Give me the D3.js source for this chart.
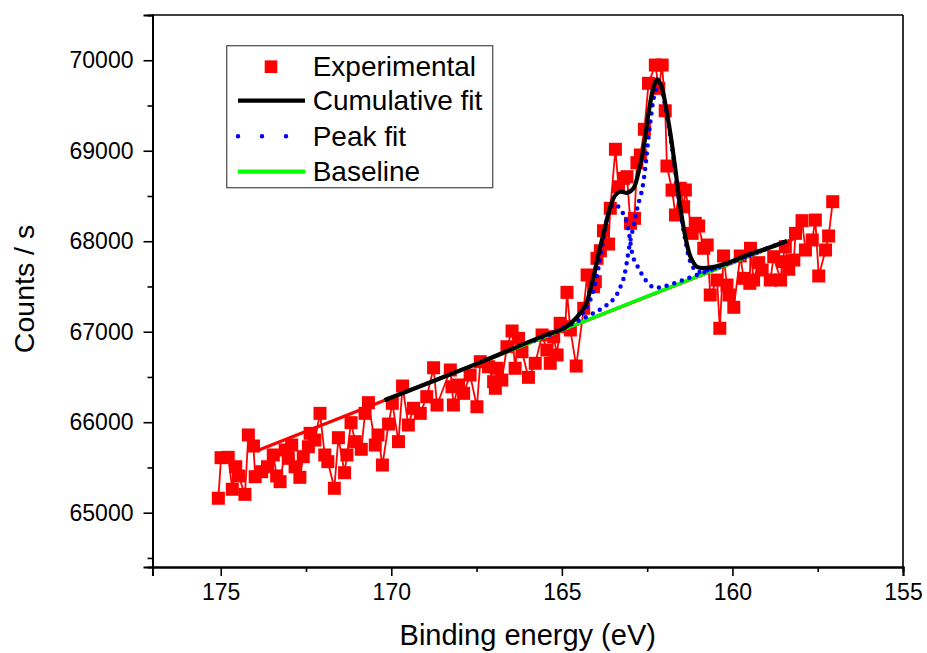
<!DOCTYPE html>
<html>
<head>
<meta charset="utf-8">
<script src="https://cdn.jsdelivr.net/npm/d3@7"></script>
<style>
  body { margin: 0; background: #fff; }
  text { font-family: "Liberation Sans", Arial, sans-serif; fill: #000; }
</style>
</head>
<body>
<script>
// experimental points [binding energy eV, counts/s]
var experimental = [
  [175.07,65160],[174.99,65608],[174.78,65612],[174.66,65259],[174.56,65508],[174.48,65406],
  [174.29,65203],[174.19,65859],[174.04,65737],[173.99,65398],[173.80,65453],[173.63,65508],
  [173.46,65638],[173.36,65406],[173.26,65343],[173.11,65693],[173.02,65601],[172.92,65748],
  [172.82,65508],[172.68,65391],[172.58,65619],[172.43,65729],[172.38,65877],[172.24,65803],
  [172.09,66098],[171.95,65638],[171.86,65564],[171.67,65270],[171.55,65829],[171.37,65442],
  [171.30,65638],[171.18,65995],[171.06,65785],[170.88,65701],[170.77,66098],[170.67,66216],
  [170.47,65748],[170.39,65859],[170.26,65527],[170.08,65980],[169.97,66209],[169.79,65785],
  [169.67,66400],[169.50,65969],[169.35,66154],[169.15,66098],[168.96,66282],[168.76,66602],
  [168.66,66190],[168.27,66577],[168.22,66392],[168.18,66190],[168.03,66411],[167.88,66319],
  [167.69,66522],[167.49,66171],[167.39,66669],[167.15,66613],[167.00,66448],[166.95,66375],
  [166.90,66596],[166.76,66466],[166.61,66834],[166.46,67008],[166.37,66596],[166.27,66927],
  [166.17,66779],[165.98,66496],[165.78,66651],[165.58,66964],[165.44,66798],[165.34,66651],
  [165.24,66945],[165.14,66743],[165.05,67093],[164.90,67055],[164.85,67435],[164.75,67019],
  [164.58,66621],[164.36,67259],[164.26,67627],[164.07,67497],[164.02,67553],[163.97,67811],
  [163.87,67895],[163.78,68116],[163.63,67969],[163.58,68364],[163.43,69016],[163.34,68602],
  [163.19,68695],[163.09,68713],[162.99,68198],[162.87,68253],[162.80,68868],[162.70,68953],
  [162.58,69237],[162.46,69745],[162.26,69947],[162.16,69690],[162.06,69947],[161.97,69442],
  [161.92,68831],[161.77,68565],[161.67,68290],[161.53,68585],[161.43,68381],[161.38,68566],
  [161.18,68087],[161.09,68198],[160.99,68168],[160.84,67922],[160.74,67958],[160.65,67406],
  [160.45,67571],[160.37,67038],[160.26,67837],[160.16,67516],[160.10,67406],[159.96,67270],
  [159.77,67837],[159.67,67590],[159.49,67535],[159.47,67922],[159.38,67571],[159.23,67763],
  [159.13,67682],[158.89,67571],[158.79,67829],[158.59,67571],[158.54,67774],[158.45,67939],
  [158.35,67690],[158.20,67792],[158.15,68087],[157.96,68227],[157.86,67903],[157.66,68014],
  [157.57,68234],[157.47,67616],[157.27,67903],[157.18,68058],[157.06,68437]
];

var cumulativeFit = [
  [170.2,66242],[167.5,66645],[165.5,66960],[164.95,67035],[164.56,67160],[164.31,67290],
  [164.12,67535],[163.92,67866],[163.73,68160],[163.58,68381],[163.43,68511],[163.29,68547],
  [163.07,68536],[162.90,68585],[162.76,68750],[162.60,69044],[162.46,69413],[162.31,69707],
  [162.21,69789],[162.09,69726],[161.97,69524],[161.82,69192],[161.67,68787],[161.53,68381],
  [161.38,68050],[161.23,67829],[161.04,67718],[160.74,67705],[160.16,67756],[159.57,67848],
  [158.98,67922],[158.40,68003]
];

var peakFit1 = [
  [165.8,66905],[164.90,67045],[164.46,67170],[164.17,67350],[163.93,67700],[163.78,68035],
  [163.64,68300],[163.52,68395],[163.43,68411],[163.29,68356],[163.14,68256],[163.04,68105],
  [162.99,67977],[162.90,67811],[162.75,67701],[162.55,67571],[162.31,67490],[162.02,67500],
  [161.53,67560],[160.84,67655],[159.77,67805],[158.90,67930]
];

var peakFit2 = [
  [165.8,66905],[164.46,67130],[163.68,67295],[163.43,67387],[163.29,67491],[163.19,67590],
  [163.11,67737],[163.04,67903],[162.97,68050],[162.90,68160],[162.85,68253],[162.78,68381],
  [162.65,68566],[162.55,68823],[162.50,69008],[162.41,69303],[162.31,69579],[162.21,69726],
  [162.17,69770],[162.09,69693],[161.97,69494],[161.82,69163],[161.67,68754],[161.53,68345],
  [161.38,68013],[161.23,67770],[161.04,67664],[160.74,67678],[160.35,67726],[159.77,67808],
  [158.98,67921],[158.40,68003]
];

var baseline = [[170.2,66242],[158.4,68003]];
var baselineFull = [[173.9,65690],[158.0,68058]];

var xTicks = [175,170,165,160,155];
var xMinor = [172.5,167.5,162.5,157.5];
var yTicks = [65000,66000,67000,68000,69000,70000];
var yMinor = [64500,65500,66500,67500,68500,69500];
var legendNames = ["Experimental","Cumulative fit","Peak fit","Baseline"];

var W = 927, H = 653;
var plotLeft = 152.5, plotRight = 903, plotTop = 15, plotBottom = 567;

var svg = d3.select("body").append("svg").attr("width", W).attr("height", H);
svg.append("rect").attr("width", W).attr("height", H).attr("fill", "#fff");

var x = d3.scaleLinear().domain([177,155]).range([plotLeft,plotRight]);
var y = d3.scaleLinear().domain([64400,70500]).range([plotBottom,plotTop]);

var line = d3.line().x(function(d){return x(d[0]);}).y(function(d){return y(d[1]);});
var smooth = d3.line().x(function(d){return x(d[0]);}).y(function(d){return y(d[1]);})
  .curve(d3.curveCatmullRom.alpha(0.5));

// red lines under the squares
svg.append("path").datum(baselineFull).attr("d", line)
  .attr("fill","none").attr("stroke","#ff0000").attr("stroke-width",3.3);
svg.append("path").datum(experimental).attr("d", line)
  .attr("fill","none").attr("stroke","#ff0000").attr("stroke-width",1.8);

var sq = 13;
svg.append("g").selectAll("rect").data(experimental).enter().append("rect")
  .attr("x", function(d){return x(d[0]) - sq/2;})
  .attr("y", function(d){return y(d[1]) - sq/2;})
  .attr("width", sq).attr("height", sq).attr("fill","#ff0000");

svg.append("path").datum(baseline).attr("d", line)
  .attr("fill","none").attr("stroke","#00ff00").attr("stroke-width",3.5);

[peakFit1, peakFit2].forEach(function(p){
  svg.append("path").datum(p).attr("d", smooth)
    .attr("fill","none").attr("stroke","#0000ff").attr("stroke-width",4.5)
    .attr("stroke-linecap","round").attr("stroke-dasharray","0 8");
});

svg.append("path").datum(cumulativeFit).attr("d", smooth)
  .attr("fill","none").attr("stroke","#000").attr("stroke-width",4.2)
  .attr("stroke-linejoin","round");

// frame
svg.append("line").attr("x1",plotLeft).attr("x2",plotRight).attr("y1",plotTop).attr("y2",plotTop)
  .attr("stroke","#000").attr("stroke-width",1.6);
svg.append("line").attr("x1",plotRight).attr("x2",plotRight).attr("y1",plotTop).attr("y2",plotBottom)
  .attr("stroke","#000").attr("stroke-width",1.6);

svg.append("g").attr("transform","translate(0,"+plotBottom+")")
  .call(d3.axisBottom(x).tickValues(xTicks).tickSize(9).tickPadding(8).tickFormat(d3.format("d")));
svg.append("g").attr("transform","translate(0,"+plotBottom+")")
  .call(d3.axisBottom(x).tickValues(xMinor).tickSize(5).tickFormat(""));
svg.append("g").attr("transform","translate("+plotLeft+",0)")
  .call(d3.axisLeft(y).tickValues(yTicks).tickSize(9).tickPadding(10).tickFormat(d3.format("d")));
svg.append("g").attr("transform","translate("+plotLeft+",0)")
  .call(d3.axisLeft(y).tickValues(yMinor).tickSize(5).tickFormat(""));

svg.selectAll(".domain").attr("stroke","#000").attr("stroke-width",2);
svg.selectAll(".tick line").attr("stroke","#000").attr("stroke-width",1.6);
svg.selectAll(".tick text").attr("font-size",23).attr("font-family",null);

svg.append("text").attr("x",(plotLeft+plotRight)/2).attr("y",645)
  .attr("text-anchor","middle").attr("font-size",29).text("Binding energy (eV)");
svg.append("text").attr("transform","translate(34,289) rotate(-90)")
  .attr("text-anchor","middle").attr("font-size",28.5).text("Counts / s");

// legend
var lg = svg.append("g");
lg.append("rect").attr("x",226.7).attr("y",45.7).attr("width",266).attr("height",142)
  .attr("fill","#fff").attr("stroke","#555").attr("stroke-width",1.3);
var rowY = [66.7,100.7,136.3,171.7];
lg.append("rect").attr("x",271-6.3).attr("y",rowY[0]-6.3).attr("width",12.6).attr("height",12.6)
  .attr("fill","#ff0000");
lg.append("line").attr("x1",238).attr("x2",305).attr("y1",rowY[1]).attr("y2",rowY[1])
  .attr("stroke","#000").attr("stroke-width",4.2);
lg.append("line").attr("x1",238).attr("x2",295).attr("y1",rowY[2]).attr("y2",rowY[2])
  .attr("stroke","#0000ff").attr("stroke-width",4.5).attr("stroke-linecap","round")
  .attr("stroke-dasharray","0 24");
lg.append("line").attr("x1",238).attr("x2",305).attr("y1",rowY[3]).attr("y2",rowY[3])
  .attr("stroke","#00ff00").attr("stroke-width",4.2);
lg.selectAll("text.name").data(legendNames).enter().append("text")
  .attr("x",312.7).attr("y",function(d,i){return rowY[i]+9.5;})
  .attr("font-size",28).text(function(d){return d;});
</script>
</body>
</html>
